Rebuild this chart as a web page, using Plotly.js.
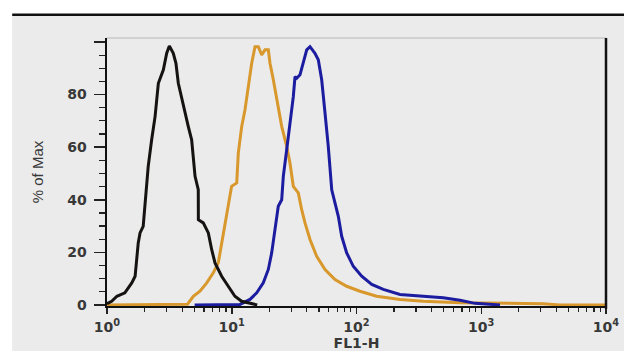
<!DOCTYPE html>
<html>
<head>
<meta charset="utf-8">
<script src="https://cdn.plot.ly/plotly-3.0.1.min.js"></script>
<style>html,body{margin:0;padding:0;background:#fff;}#chart{width:624px;height:351px;}</style>
</head>
<body>
<div id="chart"></div>
<script>
// Control (black)
const blackX = [1.0, 1.09, 1.20, 1.39, 1.58, 1.68, 1.78, 1.84, 1.95, 2.08, 2.14, 2.28, 2.43, 2.58, 2.83, 3.01, 3.16, 3.40, 3.57, 3.73, 4.09, 4.48, 4.77, 5.08, 5.39, 5.40, 5.91, 6.49, 6.90, 7.34, 8.30, 9.38, 10.6, 12.0, 13.5, 16.0];
const blackY = [0.5, 1.4, 3.3, 4.6, 8.4, 10.9, 23.6, 27.4, 29.9, 43.8, 52.7, 62.8, 71.7, 84.3, 89.4, 95.7, 98.5, 95.7, 91.9, 84.3, 75.4, 67.9, 62.8, 48.9, 43.8, 32.4, 31.2, 27.4, 21.1, 16.0, 10.9, 7.1, 3.3, 1.4, 0.8, 0.0];
// Isotype (orange)
const orangeX = [1.0, 4.42, 4.92, 5.56, 6.30, 7.11, 7.80, 8.30, 9.11, 9.97, 10.96, 11.29, 12.02, 12.77, 13.58, 14.45, 15.36, 16.33, 17.38, 18.48, 19.64, 20.26, 21.54, 22.93, 25.14, 27.57, 29.29, 31.15, 34.15, 36.37, 38.65, 42.39, 47.95, 55.94, 67.24, 83.44, 106.6, 145.1, 223.2, 343, 676, 3126, 4276, 10000];
const orangeY = [0.0, 0.3, 3.3, 5.2, 8.4, 12.2, 16.0, 23.6, 33.7, 45.1, 46.4, 57.8, 67.9, 74.2, 83.0, 91.9, 98.2, 98.2, 95.1, 97.0, 97.0, 91.9, 85.6, 78.0, 67.9, 60.3, 54.0, 45.1, 42.6, 36.2, 31.2, 24.9, 18.5, 13.5, 9.7, 7.1, 5.2, 3.3, 2.1, 1.4, 0.8, 0.5, 0.0, 0.0];
// Stained (blue)
const blueX = [5.04, 11.64, 14.0, 15.85, 17.9, 19.64, 20.9, 22.2, 23.6, 25.14, 25.9, 27.57, 29.29, 31.15, 32.14, 33.2, 35.24, 37.5, 39.9, 42.39, 46.45, 49.4, 52.6, 55.94, 59.4, 63.3, 67.24, 71.5, 76.1, 83.44, 94.2, 110.1, 132.5, 164.1, 223.2, 343, 496, 676, 891, 1413];
const blueY = [0.0, 0.2, 2.1, 4.6, 8.4, 13.5, 19.8, 28.7, 37.5, 40.0, 48.9, 59.0, 69.1, 79.2, 86.8, 86.2, 87.5, 91.9, 97.0, 98.2, 95.7, 93.2, 85.6, 72.9, 60.3, 43.8, 38.8, 33.7, 26.1, 19.8, 14.7, 10.9, 7.8, 5.9, 4.0, 3.3, 2.7, 1.8, 0.6, 0.0];

const xTickVals = [1, 10, 100, 1000, 10000];
const xTickText = ['10<sup>0</sup>', '10<sup>1</sup>', '10<sup>2</sup>', '10<sup>3</sup>', '10<sup>4</sup>'];
const yTickVals = [0, 20, 40, 60, 80, 100];
const yTickText = ['0', '20', '40', '60', '80', ''];

const bg = '#ebebeb';
const traces = [
  {x: orangeX, y: orangeY, type: 'scatter', mode: 'lines', line: {color: '#d8982c', width: 3}, name: 'Isotype'},
  {x: blueX, y: blueY, type: 'scatter', mode: 'lines', line: {color: '#1c1ca0', width: 3}, name: 'Stained'},
  {x: blackX, y: blackY, type: 'scatter', mode: 'lines', line: {color: '#161212', width: 3}, name: 'Control'}
];

const tickFont = {family: 'DejaVu Sans, Verdana, sans-serif', size: 14, color: '#383838', weight: 'bold'};

const layout = {
  width: 624, height: 351,
  margin: {l: 107, r: 18, t: 38, b: 45, pad: 0},
  paper_bgcolor: '#ffffff',
  plot_bgcolor: bg,
  showlegend: false,
  xaxis: {
    type: 'log', range: [0, 4],
    tickvals: xTickVals, ticktext: xTickText,
    ticks: 'outside', ticklen: 6, tickwidth: 1.5, tickcolor: '#222',
    minor: {dtick: 'D1', ticks: 'outside', ticklen: 4, tickwidth: 1.2, tickcolor: '#222', showgrid: false},
    showgrid: false, zeroline: false,
    showline: true, linecolor: '#111', linewidth: 2,
    layer: 'below traces',
    ticklabelstandoff: 1,
    tickfont: tickFont,
    title: {text: 'FL1-H', font: {family: 'DejaVu Sans, Verdana, sans-serif', size: 14, color: '#383838', weight: 'bold'}, standoff: 0}
  },
  yaxis: {
    range: [-0.4, 101.5],
    tickvals: yTickVals, ticktext: yTickText,
    ticks: 'outside', ticklen: 11, tickwidth: 1.5, tickcolor: '#222',
    minor: {dtick: 5, ticks: 'outside', ticklen: 6, tickwidth: 1.2, tickcolor: '#222', showgrid: false},
    showgrid: false, zeroline: false,
    showline: true, linecolor: '#111', linewidth: 2.5,
    ticklabelstandoff: 4,
    tickfont: tickFont,
    title: {text: '% of Max', font: {family: 'Liberation Sans Narrow, Arial Narrow, Liberation Sans, sans-serif', size: 15, color: '#383838'}, standoff: 20}
  },
  shapes: [
    {type: 'rect', xref: 'paper', yref: 'paper', x0: -0.19, x1: 1.04, y0: -0.2, y1: 1.085, fillcolor: bg, line: {width: 0}, layer: 'below'},
    {type: 'line', xref: 'paper', yref: 'paper', x0: -0.19, x1: 1.04, y0: 1.087, y1: 1.087, line: {color: '#111', width: 2.5}},
    {type: 'line', xref: 'paper', yref: 'paper', x0: 0, x1: 1, y0: 1, y1: 1, line: {color: '#c8c8c8', width: 1.5}},
    {type: 'line', xref: 'paper', yref: 'paper', x0: 1, x1: 1, y0: -0.01, y1: 1, line: {color: '#111', width: 2.5}}
  ]
};

Plotly.newPlot('chart', traces, layout, {displayModeBar: false, staticPlot: true});
</script>
</body>
</html>
